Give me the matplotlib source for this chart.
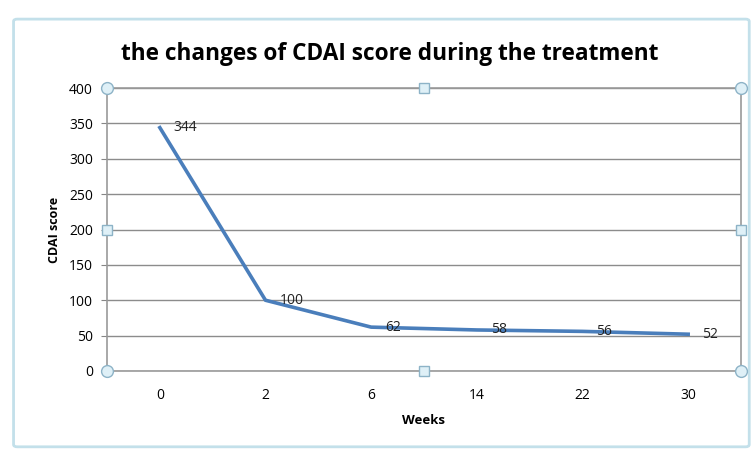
import matplotlib.pyplot as plt
from matplotlib.patches import FancyBboxPatch

# Data
weeks = ["0", "2", "6", "14", "22", "30"]
cdai = [344, 100, 62, 58, 56, 52]
y_ticks = [0, 50, 100, 150, 200, 250, 300, 350, 400]

plt.rcParams['font.family'] = ['Open Sans', 'DejaVu Sans']

fig = plt.figure(figsize=(7.53, 4.55), dpi=100)

# Outer chart frame (light blue, like the selected Excel chart object)
frame = FancyBboxPatch((0.018, 0.018), 0.977, 0.94, boxstyle="round,pad=0,rounding_size=0.005",
                       transform=fig.transFigure, facecolor="white",
                       edgecolor="#c3e0ea", linewidth=2, zorder=-1)
fig.patches.append(frame)

ax = fig.add_axes([107 / 753, 1 - 371 / 455, (741 - 107) / 753, (371 - 88) / 455])
ax.patch.set_alpha(0)

x = list(range(len(weeks)))
ax.plot(x, cdai, color="#4a7ebb", linewidth=2.6, zorder=3)

for xi, v in zip(x, cdai):
    ax.annotate(str(v), (xi, v), xytext=(10, 0), textcoords="offset points",
                ha="left", va="center", fontsize=10, color="#222222", zorder=4)

ax.set_xlim(-0.5, len(weeks) - 0.5)
ax.set_ylim(0, 400)
ax.set_yticks(y_ticks)
ax.set_xticks(x)
ax.set_xticklabels(weeks)
ax.tick_params(axis="y", labelsize=10, length=4, color="#868686", pad=6)
ax.tick_params(axis="x", labelsize=10, length=0, pad=12)

ax.grid(axis="y", color="#8c8c8c", linewidth=1)
ax.set_axisbelow(True)
for s in ax.spines.values():
    s.set_color("#9a9a9a")
    s.set_linewidth(1.2)

ax.set_xlabel("Weeks", fontsize=9.5, fontweight="bold", labelpad=8)
ax.set_ylabel("CDAI score", fontsize=9, fontweight="bold", labelpad=6)
fig.text(0.518, 0.882, "the changes of CDAI score during the treatment",
         ha="center", va="center", fontsize=16.3, fontweight="bold")

# Selection handles of the plot area
handle_kw = dict(transform=ax.transAxes, clip_on=False, zorder=5,
                 markerfacecolor="#dff0f7", markeredgecolor="#8db3c7", markeredgewidth=1)
for hx, hy in [(0, 0), (1, 0), (0, 1), (1, 1)]:
    ax.plot(hx, hy, marker="o", markersize=8.5, **handle_kw)
for hx, hy in [(0.5, 0), (0.5, 1), (0, 0.5), (1, 0.5)]:
    ax.plot(hx, hy, marker="s", markersize=6.5, **handle_kw)

fig.savefig("out.png", dpi=100)
